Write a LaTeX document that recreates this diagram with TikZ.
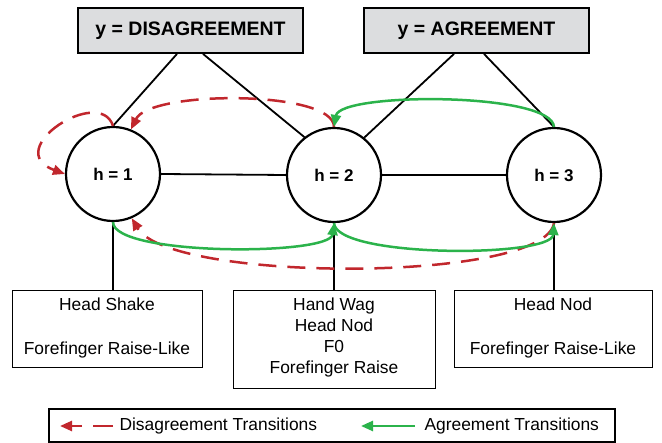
\documentclass[tikz,border=0pt]{standalone}
\usepackage{fontspec}
\setmainfont{Liberation Sans}
\usepackage{xcolor}
\usetikzlibrary{arrows.meta, positioning, calc}
\definecolor{disred}{HTML}{C1272D}
\definecolor{agrgreen}{HTML}{2BB34B}
\definecolor{classgray}{HTML}{DCDDDF}
\tikzstyle{classbox} = [draw, line width=1.8pt, fill=classgray, minimum width=225pt, minimum height=45pt, font=\fontsize{19.5}{23}\selectfont\bfseries]
\tikzstyle{hidden} = [circle, draw, line width=2.2pt, fill=white, minimum size=94pt, inner sep=0pt, font=\fontsize{17}{20}\selectfont\bfseries]
\tikzstyle{featbox} = [draw, line width=1pt, anchor=north, inner sep=0pt]
\tikzstyle{feattext} = [anchor=north, align=center, font=\fontsize{17.4}{21}\selectfont]
\tikzstyle{link} = [line width=1.8pt]
\tikzstyle{disarrow} = [line width=2.5pt, disred, dash pattern=on 18pt off 11pt, -{Triangle[length=12pt,width=10pt]}]
\tikzstyle{agrarrow} = [line width=2.5pt, agrgreen, -{Triangle[length=12pt,width=10pt]}]

\begin{document}
\begin{tikzpicture}[x=1pt, y=-1pt]
    \useasboundingbox (0,0) rectangle (662,443);

    % Class labels
    \node[classbox] (ydis) at (190.5,30.5) {y = DISAGREEMENT};
    \node[classbox] (yagr) at (476.5,30.5) {y = AGREEMENT};

    % Hidden states
    \node[hidden] (h1) at (113,174) {h = 1};
    \node[hidden] (h2) at (334,175) {h = 2};
    \node[hidden] (h3) at (554,175) {h = 3};

    % Feature boxes
    \node[featbox, minimum width=190pt, minimum height=77pt] (feat1) at (107,290) {};
    \node[featbox, minimum width=202pt, minimum height=98pt] (feat2) at (334,290) {};
    \node[featbox, minimum width=198pt, minimum height=77pt] (feat3) at (553,290) {};
    \node[feattext] (feat1txt) at ($(feat1.north)+(0,4)$) {Head Shake\\[23pt]Forefinger Raise-Like};
    \node[feattext] (feat2txt) at ($(feat2.north)+(0,4)$) {Hand Wag\\Head Nod\\F0\\Forefinger Raise};
    \node[feattext] (feat3txt) at ($(feat3.north)+(0,4)$) {Head Nod\\[23pt]Forefinger Raise-Like};

    % Structure links
    \draw[link] ([xshift=-13.5pt]ydis.south) -- (h1.north);
    \draw[link] ([xshift=12.5pt]ydis.south) -- (h2.128);
    \draw[link] ([xshift=-22.5pt]yagr.south) -- (h2.51);
    \draw[link] ([xshift=7.5pt]yagr.south) -- (h3.north);
    \draw[link] (h1.east) -- (h2.west);
    \draw[link] (h2.east) -- (h3.west);
    \draw[link] (h1.south) -- (h1.south |- feat1.north);
    \draw[link] (h2.south) -- (h2.south |- feat2.north);
    \draw[link] (h3.south) -- (h3.south |- feat3.north);

    % Disagreement transitions
    \draw[disarrow] (h1.90) .. controls (100,85) and (0,150) .. (h1.180);
    \draw[disarrow] (h2.90) .. controls (334,90) and (150,90) .. (h1.68);
    \draw[disarrow] (h3.270) .. controls (545,283) and (170,283) .. (h1.293);

    % Agreement transitions
    \draw[agrarrow] (h3.90) .. controls (552,92) and (340,92) .. (h2.90);
    \draw[agrarrow] (h1.270) .. controls (113,256) and (330,256) .. (h2.270);
    \draw[agrarrow] (h2.270) .. controls (336,258) and (552,258) .. (h3.270);

    % Legend
    \node[draw, line width=1.2pt, minimum width=566pt, minimum height=33pt] (legend) at (332,425.5) {};
    \coordinate (disstart) at (113,426);
    \coordinate (disend) at (60,426);
    \coordinate (agrstart) at (415,426);
    \coordinate (agrend) at (361,426);
    \draw[disarrow, dash pattern=on 20pt off 11pt] (disstart) -- (disend);
    \draw[agrarrow] (agrstart) -- (agrend);
    \node[anchor=west, font=\fontsize{17.4}{22}\selectfont] (distext) at (116,426) {Disagreement Transitions};
    \node[anchor=west, font=\fontsize{17.4}{22}\selectfont] (agrtext) at (421,426) {Agreement Transitions};
\end{tikzpicture}
\end{document}
